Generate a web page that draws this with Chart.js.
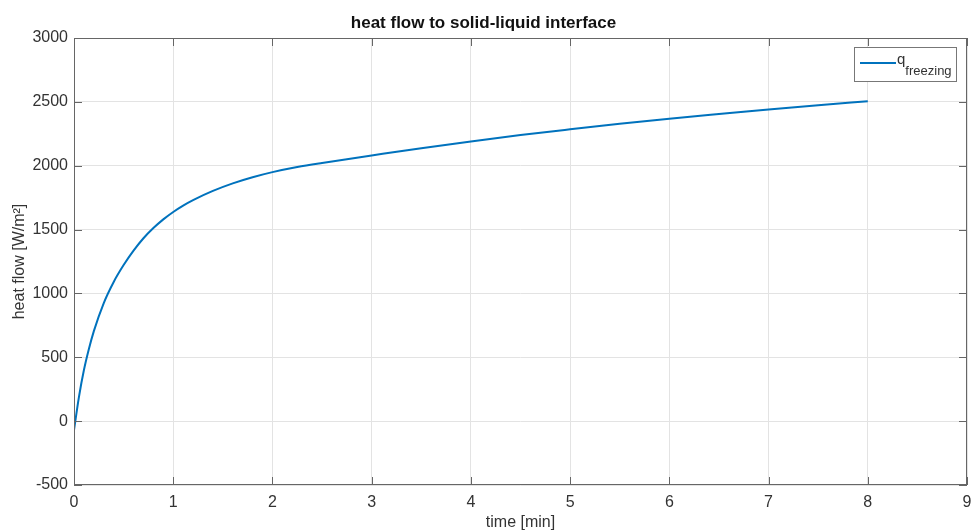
<!DOCTYPE html>
<html><head><meta charset="utf-8">
<script src="https://cdn.jsdelivr.net/npm/chart.js@4"></script>
<style>html,body{margin:0;padding:0;background:#fff}#w{width:976px;height:532px}</style>
</head><body><div id="w"><canvas id="c"></canvas></div>
<script>
const times = [0, 0.05, 0.1, 0.15, 0.2, 0.3, 0.4, 0.5, 0.6, 0.7, 0.8, 0.9, 1.0, 1.1, 1.2, 1.4, 1.6, 1.8, 2.0, 2.25, 2.5, 3.0, 3.5, 4.0, 4.5, 5.0, 5.5, 6.0, 6.5, 7.0, 7.5, 8.0];
const qFreezing = [-70, 190, 400, 565, 705, 925, 1090, 1222, 1335, 1432, 1512, 1580, 1638, 1688, 1731, 1803, 1862, 1910, 1950, 1990, 2022, 2080, 2137, 2190, 2240, 2285, 2328, 2368, 2405, 2441, 2474, 2505];
const xTicks = [0,1,2,3,4,5,6,7,8,9];
const yTicks = [-500,0,500,1000,1500,2000,2500,3000];
const seriesName = 'q';
const seriesSub = 'freezing';

const FONT = "'Liberation Sans', Arial, sans-serif";
const AX = '#666666';
const TXT = '#333333';

const boxPlugin = {
  id: 'box',
  afterDatasetsDraw(chart) {
    const {ctx, chartArea: a, scales: {x, y}} = chart;
    ctx.save();
    ctx.strokeStyle = AX; ctx.lineWidth = 1;
    ctx.strokeRect(a.left + 0.5, a.top + 0.5, a.right - a.left - 1, a.bottom - a.top - 1);
    ctx.beginPath();
    xTicks.forEach(v => {
      const px = Math.round(x.getPixelForValue(v)) + 0.5;
      ctx.moveTo(px, a.bottom); ctx.lineTo(px, a.bottom - 8);
      ctx.moveTo(px, a.top); ctx.lineTo(px, a.top + 8);
    });
    yTicks.forEach(v => {
      const py = Math.round(y.getPixelForValue(v)) + 0.5;
      ctx.moveTo(a.left, py); ctx.lineTo(a.left + 8, py);
      ctx.moveTo(a.right, py); ctx.lineTo(a.right - 8, py);
    });
    ctx.stroke();
    // legend
    const lx = 854, ly = 47, lw = 102, lh = 34;
    ctx.fillStyle = '#fff';
    ctx.fillRect(lx, ly, lw, lh);
    ctx.strokeStyle = '#777';
    ctx.lineWidth = 1;
    ctx.strokeRect(lx + 0.5, ly + 0.5, lw, lh);
    ctx.strokeStyle = chart.data.datasets[0].borderColor;
    ctx.lineWidth = 2;
    ctx.beginPath(); ctx.moveTo(860, 63); ctx.lineTo(896, 63); ctx.stroke();
    ctx.fillStyle = TXT;
    ctx.textBaseline = 'alphabetic';
    ctx.textAlign = 'left';
    ctx.font = `15px ${FONT}`;
    ctx.fillText(seriesName, 897, 64);
    const qw = ctx.measureText(seriesName).width;
    ctx.font = `13px ${FONT}`;
    ctx.fillText(seriesSub, 897 + qw, 75);
    ctx.restore();
  }
};

new Chart(document.getElementById('c'), {
  type: 'line',
  data: {
    datasets: [{
      label: 'q_freezing',
      data: times.map((t, i) => ({x: t, y: qFreezing[i]})),
      borderColor: '#0072BD',
      borderWidth: 2,
      pointRadius: 0,
      fill: false,
      cubicInterpolationMode: 'monotone'
    }]
  },
  options: {
    responsive: true,
    maintainAspectRatio: false,
    animation: false,
    layout: {padding: {left: 0, right: 9, top: 0, bottom: 0}},
    plugins: {
      legend: {display: false},
      tooltip: {enabled: false},
      title: {
        display: true,
        text: 'heat flow to solid-liquid interface',
        color: '#111',
        font: {family: FONT, size: 17, weight: 'bold', lineHeight: 1.2},
        padding: {top: 13, bottom: 4.6}
      }
    },
    scales: {
      x: {
        type: 'linear', min: 0, max: 9,
        afterBuildTicks: s => { s.ticks = xTicks.map(v => ({value: v})); },
        afterFit: s => { s.height = 47; s.paddingRight = 0; s.paddingLeft = 0; },
        grid: {color: '#e3e3e3', drawTicks: false},
        border: {display: false},
        ticks: {color: TXT, font: {family: FONT, size: 16}, padding: 8, callback: v => String(v)},
        title: {display: true, text: 'time [min]', color: TXT, font: {family: FONT, size: 16}, padding: {top: 0, bottom: 0}}
      },
      y: {
        type: 'linear', min: -500, max: 3000,
        afterBuildTicks: s => { s.ticks = yTicks.map(v => ({value: v})); },
        afterFit: s => { s.width = 74; },
        grid: {color: '#e3e3e3', drawTicks: false},
        border: {display: false},
        ticks: {color: TXT, font: {family: FONT, size: 16}, padding: 6, callback: v => String(v)},
        title: {display: true, text: 'heat flow [W/m²]', color: TXT, font: {family: FONT, size: 16}, padding: {top: 10, bottom: 0}}
      }
    }
  },
  plugins: [boxPlugin]
});
</script></body></html>
